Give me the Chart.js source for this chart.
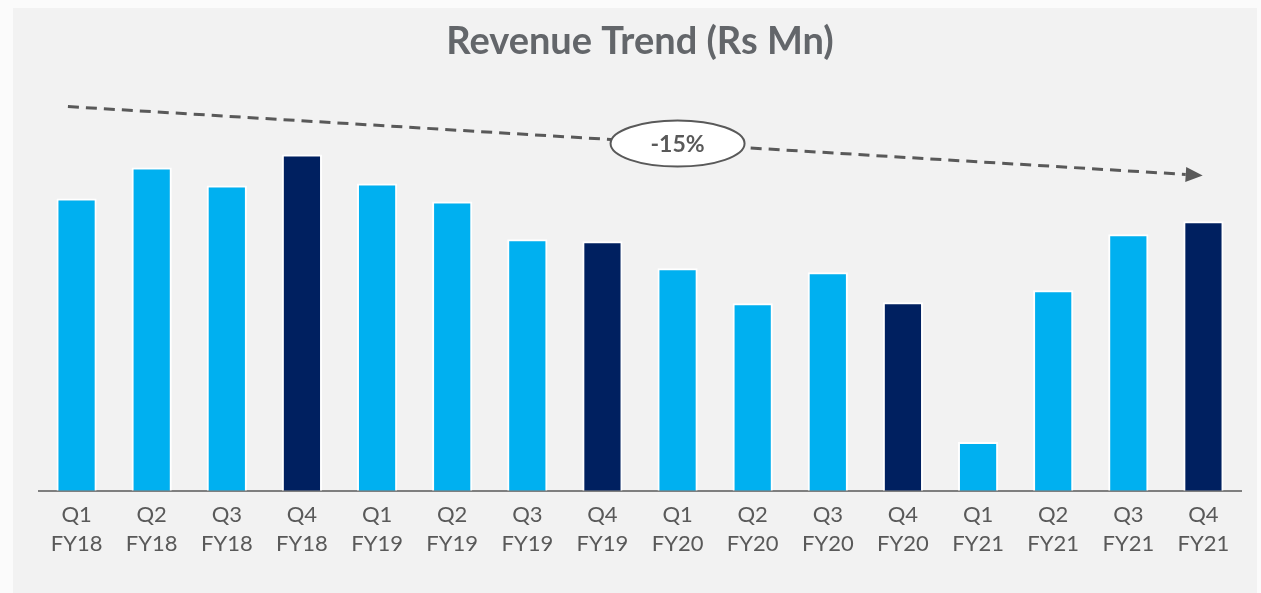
<!DOCTYPE html>
<html>
<head>
<meta charset="utf-8">
<script src="https://cdn.jsdelivr.net/npm/chart.js@4"></script>
<style>
  html, body { margin: 0; padding: 0; background: #fbfbfb; }
  #panel { position: absolute; left: 13px; top: 8px; width: 1244px; height: 585px; background: #f2f2f2; }
  #wrap { position: absolute; left: 0; top: 0; width: 1261px; height: 593px; }
</style>
</head>
<body>
<div id="panel"></div>
<div id="wrap"><canvas id="revChart" width="1261" height="593"></canvas></div>
<script>
const quarters = ['Q1', 'Q2', 'Q3', 'Q4', 'Q1', 'Q2', 'Q3', 'Q4', 'Q1', 'Q2', 'Q3', 'Q4', 'Q1', 'Q2', 'Q3', 'Q4'];
const fiscalYears = ['FY18', 'FY18', 'FY18', 'FY18', 'FY19', 'FY19', 'FY19', 'FY19', 'FY20', 'FY20', 'FY20', 'FY20', 'FY21', 'FY21', 'FY21', 'FY21'];
const revenue = [293, 324, 306, 337, 308, 290, 252, 250, 223, 188, 219, 189, 49, 201, 257, 270];

// trend arrow, in data units (category index, value)
const trendStart = { x: -0.115, y: 385 };
const trendEnd = { x: 14.99, y: 316 };
const trendLabel = '-15%';
const trendLabelAt = 8;

const LIGHT = '#00b0f0';
const DARK = '#002060';
const GREY = '#595959';

const trendArrow = {
    id: 'trendArrow',
    afterDatasetsDraw(chart) {
        const { ctx, scales: { x, y } } = chart;
        const x0 = x.getPixelForValue(trendStart.x), y0 = y.getPixelForValue(trendStart.y);
        const x1 = x.getPixelForValue(trendEnd.x), y1 = y.getPixelForValue(trendEnd.y);
        const ang = Math.atan2(y1 - y0, x1 - x0);
        const head = 17;
        const bx = x1 - head * Math.cos(ang), by = y1 - head * Math.sin(ang);

        ctx.save();
        ctx.strokeStyle = GREY;
        ctx.lineWidth = 3;
        ctx.setLineDash([11, 7]);
        ctx.beginPath();
        ctx.moveTo(x0, y0);
        ctx.lineTo(bx, by);
        ctx.stroke();
        ctx.setLineDash([]);

        // arrow head
        ctx.fillStyle = GREY;
        ctx.beginPath();
        ctx.moveTo(x1, y1);
        ctx.lineTo(bx + 7.5 * Math.sin(ang), by - 7.5 * Math.cos(ang));
        ctx.lineTo(bx - 7.5 * Math.sin(ang), by + 7.5 * Math.cos(ang));
        ctx.closePath();
        ctx.fill();

        // label bubble on the line
        const lx = x.getPixelForValue(trendLabelAt);
        const ly = y0 + (lx - x0) / (x1 - x0) * (y1 - y0);
        ctx.beginPath();
        ctx.ellipse(lx, ly, 67, 23, 0, 0, Math.PI * 2);
        ctx.fillStyle = '#ffffff';
        ctx.fill();
        ctx.lineWidth = 2;
        ctx.strokeStyle = GREY;
        ctx.stroke();
        ctx.fillStyle = GREY;
        ctx.font = 'bold 23px Lato';
        ctx.textAlign = 'center';
        ctx.textBaseline = 'middle';
        ctx.fillText(trendLabel, lx, ly + 1);
        ctx.restore();
    }
};

new Chart(document.getElementById('revChart'), {
    type: 'bar',
    data: {
        labels: quarters.map((q, i) => [q, fiscalYears[i]]),
        datasets: [{
            data: revenue,
            backgroundColor: quarters.map(q => q === 'Q4' ? DARK : LIGHT),
            borderColor: '#ffffff',
            borderWidth: 2,
            barPercentage: 0.535,
            categoryPercentage: 1
        }]
    },
    options: {
        responsive: false,
        animation: false,
        layout: { padding: { left: 39, right: 20, top: 0, bottom: 25 } },
        plugins: {
            legend: { display: false },
            tooltip: { enabled: false },
            title: {
                display: true,
                text: 'Revenue Trend (Rs Mn)',
                color: '#63666a',
                font: { family: 'Lato', size: 38, weight: 'bold' },
                padding: { top: 19, bottom: 27 }
            }
        },
        scales: {
            x: {
                grid: { display: true, drawOnChartArea: false, drawTicks: false, color: 'transparent' },
                border: { display: true, color: '#7f7f7f', width: 2 },
                ticks: {
                    color: GREY,
                    font: { family: 'Lato', size: 22, lineHeight: 1.3 },
                    padding: 10,
                    maxRotation: 0,
                    autoSkip: false
                }
            },
            y: {
                display: false,
                min: 0,
                max: 400
            }
        }
    },
    plugins: [trendArrow]
});
</script>
</body>
</html>
